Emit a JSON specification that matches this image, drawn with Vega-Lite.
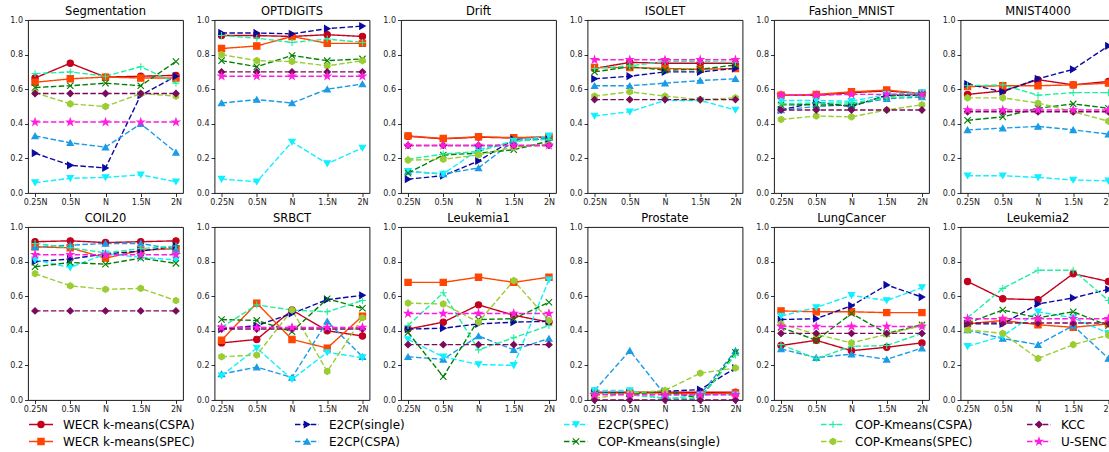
{
"$schema": "https://vega.github.io/schema/vega-lite/v6.json",
"padding": {"left": 9, "top": 5, "right": 0, "bottom": 0},
"datasets": {
"series": [
{"m":"A","name":"WECR k-means(CSPA)"},{"m":"B","name":"WECR k-means(SPEC)"},{"m":"C","name":"E2CP(single)"},{"m":"D","name":"E2CP(CSPA)"},{"m":"E","name":"E2CP(SPEC)"},{"m":"F","name":"COP-Kmeans(single)"},{"m":"G","name":"COP-Kmeans(CSPA)"},{"m":"H","name":"COP-Kmeans(SPEC)"},{"m":"I","name":"KCC"},{"m":"J","name":"U-SENC"}
],
"res": [
{"p":"Segmentation","m":"A","n":"0.25N","v":0.665},{"p":"Segmentation","m":"A","n":"0.5N","v":0.75},{"p":"Segmentation","m":"A","n":"N","v":0.67},{"p":"Segmentation","m":"A","n":"1.5N","v":0.675},{"p":"Segmentation","m":"A","n":"2N","v":0.68},
{"p":"Segmentation","m":"B","n":"0.25N","v":0.64},{"p":"Segmentation","m":"B","n":"0.5N","v":0.66},{"p":"Segmentation","m":"B","n":"N","v":0.67},{"p":"Segmentation","m":"B","n":"1.5N","v":0.665},{"p":"Segmentation","m":"B","n":"2N","v":0.665},
{"p":"Segmentation","m":"C","n":"0.25N","v":0.23},{"p":"Segmentation","m":"C","n":"0.5N","v":0.16},{"p":"Segmentation","m":"C","n":"N","v":0.145},{"p":"Segmentation","m":"C","n":"1.5N","v":0.565},{"p":"Segmentation","m":"C","n":"2N","v":0.675},
{"p":"Segmentation","m":"D","n":"0.25N","v":0.33},{"p":"Segmentation","m":"D","n":"0.5N","v":0.29},{"p":"Segmentation","m":"D","n":"N","v":0.265},{"p":"Segmentation","m":"D","n":"1.5N","v":0.40},{"p":"Segmentation","m":"D","n":"2N","v":0.235},
{"p":"Segmentation","m":"E","n":"0.25N","v":0.06},{"p":"Segmentation","m":"E","n":"0.5N","v":0.085},{"p":"Segmentation","m":"E","n":"N","v":0.09},{"p":"Segmentation","m":"E","n":"1.5N","v":0.105},{"p":"Segmentation","m":"E","n":"2N","v":0.065},
{"p":"Segmentation","m":"F","n":"0.25N","v":0.61},{"p":"Segmentation","m":"F","n":"0.5N","v":0.62},{"p":"Segmentation","m":"F","n":"N","v":0.635},{"p":"Segmentation","m":"F","n":"1.5N","v":0.62},{"p":"Segmentation","m":"F","n":"2N","v":0.76},
{"p":"Segmentation","m":"G","n":"0.25N","v":0.69},{"p":"Segmentation","m":"G","n":"0.5N","v":0.70},{"p":"Segmentation","m":"G","n":"N","v":0.675},{"p":"Segmentation","m":"G","n":"1.5N","v":0.73},{"p":"Segmentation","m":"G","n":"2N","v":0.635},
{"p":"Segmentation","m":"H","n":"0.25N","v":0.58},{"p":"Segmentation","m":"H","n":"0.5N","v":0.515},{"p":"Segmentation","m":"H","n":"N","v":0.50},{"p":"Segmentation","m":"H","n":"1.5N","v":0.575},{"p":"Segmentation","m":"H","n":"2N","v":0.56},
{"p":"Segmentation","m":"I","n":"0.25N","v":0.575},{"p":"Segmentation","m":"I","n":"0.5N","v":0.575},{"p":"Segmentation","m":"I","n":"N","v":0.575},{"p":"Segmentation","m":"I","n":"1.5N","v":0.575},{"p":"Segmentation","m":"I","n":"2N","v":0.575},
{"p":"Segmentation","m":"J","n":"0.25N","v":0.41},{"p":"Segmentation","m":"J","n":"0.5N","v":0.41},{"p":"Segmentation","m":"J","n":"N","v":0.41},{"p":"Segmentation","m":"J","n":"1.5N","v":0.41},{"p":"Segmentation","m":"J","n":"2N","v":0.41},
{"p":"OPTDIGITS","m":"A","n":"0.25N","v":0.91},{"p":"OPTDIGITS","m":"A","n":"0.5N","v":0.91},{"p":"OPTDIGITS","m":"A","n":"N","v":0.905},{"p":"OPTDIGITS","m":"A","n":"1.5N","v":0.915},{"p":"OPTDIGITS","m":"A","n":"2N","v":0.905},
{"p":"OPTDIGITS","m":"B","n":"0.25N","v":0.835},{"p":"OPTDIGITS","m":"B","n":"0.5N","v":0.85},{"p":"OPTDIGITS","m":"B","n":"N","v":0.905},{"p":"OPTDIGITS","m":"B","n":"1.5N","v":0.865},{"p":"OPTDIGITS","m":"B","n":"2N","v":0.865},
{"p":"OPTDIGITS","m":"C","n":"0.25N","v":0.925},{"p":"OPTDIGITS","m":"C","n":"0.5N","v":0.925},{"p":"OPTDIGITS","m":"C","n":"N","v":0.92},{"p":"OPTDIGITS","m":"C","n":"1.5N","v":0.95},{"p":"OPTDIGITS","m":"C","n":"2N","v":0.965},
{"p":"OPTDIGITS","m":"D","n":"0.25N","v":0.52},{"p":"OPTDIGITS","m":"D","n":"0.5N","v":0.54},{"p":"OPTDIGITS","m":"D","n":"N","v":0.52},{"p":"OPTDIGITS","m":"D","n":"1.5N","v":0.60},{"p":"OPTDIGITS","m":"D","n":"2N","v":0.63},
{"p":"OPTDIGITS","m":"E","n":"0.25N","v":0.08},{"p":"OPTDIGITS","m":"E","n":"0.5N","v":0.065},{"p":"OPTDIGITS","m":"E","n":"N","v":0.295},{"p":"OPTDIGITS","m":"E","n":"1.5N","v":0.17},{"p":"OPTDIGITS","m":"E","n":"2N","v":0.26},
{"p":"OPTDIGITS","m":"F","n":"0.25N","v":0.765},{"p":"OPTDIGITS","m":"F","n":"0.5N","v":0.73},{"p":"OPTDIGITS","m":"F","n":"N","v":0.795},{"p":"OPTDIGITS","m":"F","n":"1.5N","v":0.765},{"p":"OPTDIGITS","m":"F","n":"2N","v":0.775},
{"p":"OPTDIGITS","m":"G","n":"0.25N","v":0.91},{"p":"OPTDIGITS","m":"G","n":"0.5N","v":0.895},{"p":"OPTDIGITS","m":"G","n":"N","v":0.87},{"p":"OPTDIGITS","m":"G","n":"1.5N","v":0.89},{"p":"OPTDIGITS","m":"G","n":"2N","v":0.87},
{"p":"OPTDIGITS","m":"H","n":"0.25N","v":0.80},{"p":"OPTDIGITS","m":"H","n":"0.5N","v":0.765},{"p":"OPTDIGITS","m":"H","n":"N","v":0.76},{"p":"OPTDIGITS","m":"H","n":"1.5N","v":0.735},{"p":"OPTDIGITS","m":"H","n":"2N","v":0.765},
{"p":"OPTDIGITS","m":"I","n":"0.25N","v":0.70},{"p":"OPTDIGITS","m":"I","n":"0.5N","v":0.70},{"p":"OPTDIGITS","m":"I","n":"N","v":0.70},{"p":"OPTDIGITS","m":"I","n":"1.5N","v":0.70},{"p":"OPTDIGITS","m":"I","n":"2N","v":0.70},
{"p":"OPTDIGITS","m":"J","n":"0.25N","v":0.675},{"p":"OPTDIGITS","m":"J","n":"0.5N","v":0.675},{"p":"OPTDIGITS","m":"J","n":"N","v":0.675},{"p":"OPTDIGITS","m":"J","n":"1.5N","v":0.675},{"p":"OPTDIGITS","m":"J","n":"2N","v":0.675},
{"p":"Drift","m":"A","n":"0.25N","v":0.328},{"p":"Drift","m":"A","n":"0.5N","v":0.313},{"p":"Drift","m":"A","n":"N","v":0.323},{"p":"Drift","m":"A","n":"1.5N","v":0.318},{"p":"Drift","m":"A","n":"2N","v":0.323},
{"p":"Drift","m":"B","n":"0.25N","v":0.33},{"p":"Drift","m":"B","n":"0.5N","v":0.315},{"p":"Drift","m":"B","n":"N","v":0.325},{"p":"Drift","m":"B","n":"1.5N","v":0.32},{"p":"Drift","m":"B","n":"2N","v":0.325},
{"p":"Drift","m":"C","n":"0.25N","v":0.08},{"p":"Drift","m":"C","n":"0.5N","v":0.10},{"p":"Drift","m":"C","n":"N","v":0.185},{"p":"Drift","m":"C","n":"1.5N","v":0.31},{"p":"Drift","m":"C","n":"2N","v":0.31},
{"p":"Drift","m":"D","n":"0.25N","v":0.125},{"p":"Drift","m":"D","n":"0.5N","v":0.11},{"p":"Drift","m":"D","n":"N","v":0.145},{"p":"Drift","m":"D","n":"1.5N","v":0.30},{"p":"Drift","m":"D","n":"2N","v":0.32},
{"p":"Drift","m":"E","n":"0.25N","v":0.125},{"p":"Drift","m":"E","n":"0.5N","v":0.11},{"p":"Drift","m":"E","n":"N","v":0.25},{"p":"Drift","m":"E","n":"1.5N","v":0.30},{"p":"Drift","m":"E","n":"2N","v":0.33},
{"p":"Drift","m":"F","n":"0.25N","v":0.115},{"p":"Drift","m":"F","n":"0.5N","v":0.22},{"p":"Drift","m":"F","n":"N","v":0.23},{"p":"Drift","m":"F","n":"1.5N","v":0.25},{"p":"Drift","m":"F","n":"2N","v":0.30},
{"p":"Drift","m":"G","n":"0.25N","v":0.195},{"p":"Drift","m":"G","n":"0.5N","v":0.225},{"p":"Drift","m":"G","n":"N","v":0.24},{"p":"Drift","m":"G","n":"1.5N","v":0.30},{"p":"Drift","m":"G","n":"2N","v":0.31},
{"p":"Drift","m":"H","n":"0.25N","v":0.19},{"p":"Drift","m":"H","n":"0.5N","v":0.195},{"p":"Drift","m":"H","n":"N","v":0.22},{"p":"Drift","m":"H","n":"1.5N","v":0.265},{"p":"Drift","m":"H","n":"2N","v":0.28},
{"p":"Drift","m":"I","n":"0.25N","v":0.275},{"p":"Drift","m":"I","n":"0.5N","v":0.275},{"p":"Drift","m":"I","n":"N","v":0.275},{"p":"Drift","m":"I","n":"1.5N","v":0.275},{"p":"Drift","m":"I","n":"2N","v":0.275},
{"p":"Drift","m":"J","n":"0.25N","v":0.275},{"p":"Drift","m":"J","n":"0.5N","v":0.275},{"p":"Drift","m":"J","n":"N","v":0.275},{"p":"Drift","m":"J","n":"1.5N","v":0.275},{"p":"Drift","m":"J","n":"2N","v":0.275},
{"p":"ISOLET","m":"A","n":"0.25N","v":0.72},{"p":"ISOLET","m":"A","n":"0.5N","v":0.755},{"p":"ISOLET","m":"A","n":"N","v":0.75},{"p":"ISOLET","m":"A","n":"1.5N","v":0.75},{"p":"ISOLET","m":"A","n":"2N","v":0.75},
{"p":"ISOLET","m":"B","n":"0.25N","v":0.725},{"p":"ISOLET","m":"B","n":"0.5N","v":0.725},{"p":"ISOLET","m":"B","n":"N","v":0.72},{"p":"ISOLET","m":"B","n":"1.5N","v":0.715},{"p":"ISOLET","m":"B","n":"2N","v":0.72},
{"p":"ISOLET","m":"C","n":"0.25N","v":0.66},{"p":"ISOLET","m":"C","n":"0.5N","v":0.675},{"p":"ISOLET","m":"C","n":"N","v":0.70},{"p":"ISOLET","m":"C","n":"1.5N","v":0.70},{"p":"ISOLET","m":"C","n":"2N","v":0.72},
{"p":"ISOLET","m":"D","n":"0.25N","v":0.62},{"p":"ISOLET","m":"D","n":"0.5N","v":0.62},{"p":"ISOLET","m":"D","n":"N","v":0.635},{"p":"ISOLET","m":"D","n":"1.5N","v":0.65},{"p":"ISOLET","m":"D","n":"2N","v":0.66},
{"p":"ISOLET","m":"E","n":"0.25N","v":0.445},{"p":"ISOLET","m":"E","n":"0.5N","v":0.47},{"p":"ISOLET","m":"E","n":"N","v":0.535},{"p":"ISOLET","m":"E","n":"1.5N","v":0.535},{"p":"ISOLET","m":"E","n":"2N","v":0.48},
{"p":"ISOLET","m":"F","n":"0.25N","v":0.70},{"p":"ISOLET","m":"F","n":"0.5N","v":0.73},{"p":"ISOLET","m":"F","n":"N","v":0.71},{"p":"ISOLET","m":"F","n":"1.5N","v":0.715},{"p":"ISOLET","m":"F","n":"2N","v":0.74},
{"p":"ISOLET","m":"G","n":"0.25N","v":0.72},{"p":"ISOLET","m":"G","n":"0.5N","v":0.735},{"p":"ISOLET","m":"G","n":"N","v":0.76},{"p":"ISOLET","m":"G","n":"1.5N","v":0.76},{"p":"ISOLET","m":"G","n":"2N","v":0.755},
{"p":"ISOLET","m":"H","n":"0.25N","v":0.56},{"p":"ISOLET","m":"H","n":"0.5N","v":0.585},{"p":"ISOLET","m":"H","n":"N","v":0.56},{"p":"ISOLET","m":"H","n":"1.5N","v":0.54},{"p":"ISOLET","m":"H","n":"2N","v":0.55},
{"p":"ISOLET","m":"I","n":"0.25N","v":0.54},{"p":"ISOLET","m":"I","n":"0.5N","v":0.54},{"p":"ISOLET","m":"I","n":"N","v":0.54},{"p":"ISOLET","m":"I","n":"1.5N","v":0.54},{"p":"ISOLET","m":"I","n":"2N","v":0.54},
{"p":"ISOLET","m":"J","n":"0.25N","v":0.77},{"p":"ISOLET","m":"J","n":"0.5N","v":0.77},{"p":"ISOLET","m":"J","n":"N","v":0.77},{"p":"ISOLET","m":"J","n":"1.5N","v":0.77},{"p":"ISOLET","m":"J","n":"2N","v":0.77},
{"p":"Fashion_MNIST","m":"A","n":"0.25N","v":0.565},{"p":"Fashion_MNIST","m":"A","n":"0.5N","v":0.565},{"p":"Fashion_MNIST","m":"A","n":"N","v":0.58},{"p":"Fashion_MNIST","m":"A","n":"1.5N","v":0.59},{"p":"Fashion_MNIST","m":"A","n":"2N","v":0.575},
{"p":"Fashion_MNIST","m":"B","n":"0.25N","v":0.565},{"p":"Fashion_MNIST","m":"B","n":"0.5N","v":0.57},{"p":"Fashion_MNIST","m":"B","n":"N","v":0.585},{"p":"Fashion_MNIST","m":"B","n":"1.5N","v":0.595},{"p":"Fashion_MNIST","m":"B","n":"2N","v":0.575},
{"p":"Fashion_MNIST","m":"C","n":"0.25N","v":0.48},{"p":"Fashion_MNIST","m":"C","n":"0.5N","v":0.525},{"p":"Fashion_MNIST","m":"C","n":"N","v":0.50},{"p":"Fashion_MNIST","m":"C","n":"1.5N","v":0.565},{"p":"Fashion_MNIST","m":"C","n":"2N","v":0.565},
{"p":"Fashion_MNIST","m":"D","n":"0.25N","v":0.48},{"p":"Fashion_MNIST","m":"D","n":"0.5N","v":0.50},{"p":"Fashion_MNIST","m":"D","n":"N","v":0.51},{"p":"Fashion_MNIST","m":"D","n":"1.5N","v":0.545},{"p":"Fashion_MNIST","m":"D","n":"2N","v":0.555},
{"p":"Fashion_MNIST","m":"E","n":"0.25N","v":0.535},{"p":"Fashion_MNIST","m":"E","n":"0.5N","v":0.535},{"p":"Fashion_MNIST","m":"E","n":"N","v":0.53},{"p":"Fashion_MNIST","m":"E","n":"1.5N","v":0.57},{"p":"Fashion_MNIST","m":"E","n":"2N","v":0.58},
{"p":"Fashion_MNIST","m":"F","n":"0.25N","v":0.51},{"p":"Fashion_MNIST","m":"F","n":"0.5N","v":0.51},{"p":"Fashion_MNIST","m":"F","n":"N","v":0.505},{"p":"Fashion_MNIST","m":"F","n":"1.5N","v":0.56},{"p":"Fashion_MNIST","m":"F","n":"2N","v":0.57},
{"p":"Fashion_MNIST","m":"G","n":"0.25N","v":0.515},{"p":"Fashion_MNIST","m":"G","n":"0.5N","v":0.52},{"p":"Fashion_MNIST","m":"G","n":"N","v":0.52},{"p":"Fashion_MNIST","m":"G","n":"1.5N","v":0.55},{"p":"Fashion_MNIST","m":"G","n":"2N","v":0.56},
{"p":"Fashion_MNIST","m":"H","n":"0.25N","v":0.425},{"p":"Fashion_MNIST","m":"H","n":"0.5N","v":0.445},{"p":"Fashion_MNIST","m":"H","n":"N","v":0.44},{"p":"Fashion_MNIST","m":"H","n":"1.5N","v":0.48},{"p":"Fashion_MNIST","m":"H","n":"2N","v":0.51},
{"p":"Fashion_MNIST","m":"I","n":"0.25N","v":0.48},{"p":"Fashion_MNIST","m":"I","n":"0.5N","v":0.48},{"p":"Fashion_MNIST","m":"I","n":"N","v":0.48},{"p":"Fashion_MNIST","m":"I","n":"1.5N","v":0.48},{"p":"Fashion_MNIST","m":"I","n":"2N","v":0.48},
{"p":"Fashion_MNIST","m":"J","n":"0.25N","v":0.565},{"p":"Fashion_MNIST","m":"J","n":"0.5N","v":0.565},{"p":"Fashion_MNIST","m":"J","n":"N","v":0.57},{"p":"Fashion_MNIST","m":"J","n":"1.5N","v":0.57},{"p":"Fashion_MNIST","m":"J","n":"2N","v":0.57},
{"p":"MNIST4000","m":"A","n":"0.25N","v":0.57},{"p":"MNIST4000","m":"A","n":"0.5N","v":0.59},{"p":"MNIST4000","m":"A","n":"N","v":0.655},{"p":"MNIST4000","m":"A","n":"1.5N","v":0.625},{"p":"MNIST4000","m":"A","n":"2N","v":0.645},
{"p":"MNIST4000","m":"B","n":"0.25N","v":0.615},{"p":"MNIST4000","m":"B","n":"0.5N","v":0.62},{"p":"MNIST4000","m":"B","n":"N","v":0.62},{"p":"MNIST4000","m":"B","n":"1.5N","v":0.625},{"p":"MNIST4000","m":"B","n":"2N","v":0.635},
{"p":"MNIST4000","m":"C","n":"0.25N","v":0.63},{"p":"MNIST4000","m":"C","n":"0.5N","v":0.585},{"p":"MNIST4000","m":"C","n":"N","v":0.66},{"p":"MNIST4000","m":"C","n":"1.5N","v":0.715},{"p":"MNIST4000","m":"C","n":"2N","v":0.85},
{"p":"MNIST4000","m":"D","n":"0.25N","v":0.365},{"p":"MNIST4000","m":"D","n":"0.5N","v":0.375},{"p":"MNIST4000","m":"D","n":"N","v":0.385},{"p":"MNIST4000","m":"D","n":"1.5N","v":0.365},{"p":"MNIST4000","m":"D","n":"2N","v":0.34},
{"p":"MNIST4000","m":"E","n":"0.25N","v":0.10},{"p":"MNIST4000","m":"E","n":"0.5N","v":0.10},{"p":"MNIST4000","m":"E","n":"N","v":0.09},{"p":"MNIST4000","m":"E","n":"1.5N","v":0.075},{"p":"MNIST4000","m":"E","n":"2N","v":0.07},
{"p":"MNIST4000","m":"F","n":"0.25N","v":0.42},{"p":"MNIST4000","m":"F","n":"0.5N","v":0.44},{"p":"MNIST4000","m":"F","n":"N","v":0.49},{"p":"MNIST4000","m":"F","n":"1.5N","v":0.515},{"p":"MNIST4000","m":"F","n":"2N","v":0.49},
{"p":"MNIST4000","m":"G","n":"0.25N","v":0.62},{"p":"MNIST4000","m":"G","n":"0.5N","v":0.625},{"p":"MNIST4000","m":"G","n":"N","v":0.565},{"p":"MNIST4000","m":"G","n":"1.5N","v":0.58},{"p":"MNIST4000","m":"G","n":"2N","v":0.58},
{"p":"MNIST4000","m":"H","n":"0.25N","v":0.55},{"p":"MNIST4000","m":"H","n":"0.5N","v":0.55},{"p":"MNIST4000","m":"H","n":"N","v":0.52},{"p":"MNIST4000","m":"H","n":"1.5N","v":0.47},{"p":"MNIST4000","m":"H","n":"2N","v":0.415},
{"p":"MNIST4000","m":"I","n":"0.25N","v":0.47},{"p":"MNIST4000","m":"I","n":"0.5N","v":0.47},{"p":"MNIST4000","m":"I","n":"N","v":0.47},{"p":"MNIST4000","m":"I","n":"1.5N","v":0.47},{"p":"MNIST4000","m":"I","n":"2N","v":0.47},
{"p":"MNIST4000","m":"J","n":"0.25N","v":0.48},{"p":"MNIST4000","m":"J","n":"0.5N","v":0.48},{"p":"MNIST4000","m":"J","n":"N","v":0.48},{"p":"MNIST4000","m":"J","n":"1.5N","v":0.48},{"p":"MNIST4000","m":"J","n":"2N","v":0.48},
{"p":"COIL20","m":"A","n":"0.25N","v":0.915},{"p":"COIL20","m":"A","n":"0.5N","v":0.92},{"p":"COIL20","m":"A","n":"N","v":0.91},{"p":"COIL20","m":"A","n":"1.5N","v":0.915},{"p":"COIL20","m":"A","n":"2N","v":0.92},
{"p":"COIL20","m":"B","n":"0.25N","v":0.885},{"p":"COIL20","m":"B","n":"0.5N","v":0.88},{"p":"COIL20","m":"B","n":"N","v":0.82},{"p":"COIL20","m":"B","n":"1.5N","v":0.865},{"p":"COIL20","m":"B","n":"2N","v":0.875},
{"p":"COIL20","m":"C","n":"0.25N","v":0.80},{"p":"COIL20","m":"C","n":"0.5N","v":0.815},{"p":"COIL20","m":"C","n":"N","v":0.845},{"p":"COIL20","m":"C","n":"1.5N","v":0.86},{"p":"COIL20","m":"C","n":"2N","v":0.89},
{"p":"COIL20","m":"D","n":"0.25N","v":0.885},{"p":"COIL20","m":"D","n":"0.5N","v":0.895},{"p":"COIL20","m":"D","n":"N","v":0.905},{"p":"COIL20","m":"D","n":"1.5N","v":0.905},{"p":"COIL20","m":"D","n":"2N","v":0.87},
{"p":"COIL20","m":"E","n":"0.25N","v":0.81},{"p":"COIL20","m":"E","n":"0.5N","v":0.765},{"p":"COIL20","m":"E","n":"N","v":0.845},{"p":"COIL20","m":"E","n":"1.5N","v":0.825},{"p":"COIL20","m":"E","n":"2N","v":0.81},
{"p":"COIL20","m":"F","n":"0.25N","v":0.77},{"p":"COIL20","m":"F","n":"0.5N","v":0.795},{"p":"COIL20","m":"F","n":"N","v":0.785},{"p":"COIL20","m":"F","n":"1.5N","v":0.82},{"p":"COIL20","m":"F","n":"2N","v":0.79},
{"p":"COIL20","m":"G","n":"0.25N","v":0.905},{"p":"COIL20","m":"G","n":"0.5N","v":0.88},{"p":"COIL20","m":"G","n":"N","v":0.85},{"p":"COIL20","m":"G","n":"1.5N","v":0.875},{"p":"COIL20","m":"G","n":"2N","v":0.89},
{"p":"COIL20","m":"H","n":"0.25N","v":0.73},{"p":"COIL20","m":"H","n":"0.5N","v":0.66},{"p":"COIL20","m":"H","n":"N","v":0.64},{"p":"COIL20","m":"H","n":"1.5N","v":0.645},{"p":"COIL20","m":"H","n":"2N","v":0.575},
{"p":"COIL20","m":"I","n":"0.25N","v":0.515},{"p":"COIL20","m":"I","n":"0.5N","v":0.515},{"p":"COIL20","m":"I","n":"N","v":0.515},{"p":"COIL20","m":"I","n":"1.5N","v":0.515},{"p":"COIL20","m":"I","n":"2N","v":0.515},
{"p":"COIL20","m":"J","n":"0.25N","v":0.84},{"p":"COIL20","m":"J","n":"0.5N","v":0.84},{"p":"COIL20","m":"J","n":"N","v":0.84},{"p":"COIL20","m":"J","n":"1.5N","v":0.84},{"p":"COIL20","m":"J","n":"2N","v":0.84},
{"p":"SRBCT","m":"A","n":"0.25N","v":0.33},{"p":"SRBCT","m":"A","n":"0.5N","v":0.35},{"p":"SRBCT","m":"A","n":"N","v":0.52},{"p":"SRBCT","m":"A","n":"1.5N","v":0.40},{"p":"SRBCT","m":"A","n":"2N","v":0.37},
{"p":"SRBCT","m":"B","n":"0.25N","v":0.345},{"p":"SRBCT","m":"B","n":"0.5N","v":0.56},{"p":"SRBCT","m":"B","n":"N","v":0.35},{"p":"SRBCT","m":"B","n":"1.5N","v":0.30},{"p":"SRBCT","m":"B","n":"2N","v":0.485},
{"p":"SRBCT","m":"C","n":"0.25N","v":0.41},{"p":"SRBCT","m":"C","n":"0.5N","v":0.43},{"p":"SRBCT","m":"C","n":"N","v":0.50},{"p":"SRBCT","m":"C","n":"1.5N","v":0.58},{"p":"SRBCT","m":"C","n":"2N","v":0.605},
{"p":"SRBCT","m":"D","n":"0.25N","v":0.15},{"p":"SRBCT","m":"D","n":"0.5N","v":0.19},{"p":"SRBCT","m":"D","n":"N","v":0.13},{"p":"SRBCT","m":"D","n":"1.5N","v":0.455},{"p":"SRBCT","m":"D","n":"2N","v":0.25},
{"p":"SRBCT","m":"E","n":"0.25N","v":0.14},{"p":"SRBCT","m":"E","n":"0.5N","v":0.30},{"p":"SRBCT","m":"E","n":"N","v":0.12},{"p":"SRBCT","m":"E","n":"1.5N","v":0.275},{"p":"SRBCT","m":"E","n":"2N","v":0.245},
{"p":"SRBCT","m":"F","n":"0.25N","v":0.465},{"p":"SRBCT","m":"F","n":"0.5N","v":0.46},{"p":"SRBCT","m":"F","n":"N","v":0.395},{"p":"SRBCT","m":"F","n":"1.5N","v":0.585},{"p":"SRBCT","m":"F","n":"2N","v":0.53},
{"p":"SRBCT","m":"G","n":"0.25N","v":0.42},{"p":"SRBCT","m":"G","n":"0.5N","v":0.55},{"p":"SRBCT","m":"G","n":"N","v":0.52},{"p":"SRBCT","m":"G","n":"1.5N","v":0.51},{"p":"SRBCT","m":"G","n":"2N","v":0.575},
{"p":"SRBCT","m":"H","n":"0.25N","v":0.25},{"p":"SRBCT","m":"H","n":"0.5N","v":0.26},{"p":"SRBCT","m":"H","n":"N","v":0.52},{"p":"SRBCT","m":"H","n":"1.5N","v":0.165},{"p":"SRBCT","m":"H","n":"2N","v":0.475},
{"p":"SRBCT","m":"I","n":"0.25N","v":0.41},{"p":"SRBCT","m":"I","n":"0.5N","v":0.41},{"p":"SRBCT","m":"I","n":"N","v":0.41},{"p":"SRBCT","m":"I","n":"1.5N","v":0.41},{"p":"SRBCT","m":"I","n":"2N","v":0.41},
{"p":"SRBCT","m":"J","n":"0.25N","v":0.42},{"p":"SRBCT","m":"J","n":"0.5N","v":0.42},{"p":"SRBCT","m":"J","n":"N","v":0.42},{"p":"SRBCT","m":"J","n":"1.5N","v":0.42},{"p":"SRBCT","m":"J","n":"2N","v":0.42},
{"p":"Leukemia1","m":"A","n":"0.25N","v":0.41},{"p":"Leukemia1","m":"A","n":"0.5N","v":0.45},{"p":"Leukemia1","m":"A","n":"N","v":0.55},{"p":"Leukemia1","m":"A","n":"1.5N","v":0.49},{"p":"Leukemia1","m":"A","n":"2N","v":0.45},
{"p":"Leukemia1","m":"B","n":"0.25N","v":0.68},{"p":"Leukemia1","m":"B","n":"0.5N","v":0.68},{"p":"Leukemia1","m":"B","n":"N","v":0.71},{"p":"Leukemia1","m":"B","n":"1.5N","v":0.68},{"p":"Leukemia1","m":"B","n":"2N","v":0.71},
{"p":"Leukemia1","m":"C","n":"0.25N","v":0.41},{"p":"Leukemia1","m":"C","n":"0.5N","v":0.415},{"p":"Leukemia1","m":"C","n":"N","v":0.44},{"p":"Leukemia1","m":"C","n":"1.5N","v":0.45},{"p":"Leukemia1","m":"C","n":"2N","v":0.455},
{"p":"Leukemia1","m":"D","n":"0.25N","v":0.25},{"p":"Leukemia1","m":"D","n":"0.5N","v":0.235},{"p":"Leukemia1","m":"D","n":"N","v":0.37},{"p":"Leukemia1","m":"D","n":"1.5N","v":0.29},{"p":"Leukemia1","m":"D","n":"2N","v":0.355},
{"p":"Leukemia1","m":"E","n":"0.25N","v":0.35},{"p":"Leukemia1","m":"E","n":"0.5N","v":0.25},{"p":"Leukemia1","m":"E","n":"N","v":0.205},{"p":"Leukemia1","m":"E","n":"1.5N","v":0.20},{"p":"Leukemia1","m":"E","n":"2N","v":0.695},
{"p":"Leukemia1","m":"F","n":"0.25N","v":0.39},{"p":"Leukemia1","m":"F","n":"0.5N","v":0.135},{"p":"Leukemia1","m":"F","n":"N","v":0.465},{"p":"Leukemia1","m":"F","n":"1.5N","v":0.47},{"p":"Leukemia1","m":"F","n":"2N","v":0.565},
{"p":"Leukemia1","m":"G","n":"0.25N","v":0.43},{"p":"Leukemia1","m":"G","n":"0.5N","v":0.62},{"p":"Leukemia1","m":"G","n":"N","v":0.29},{"p":"Leukemia1","m":"G","n":"1.5N","v":0.36},{"p":"Leukemia1","m":"G","n":"2N","v":0.43},
{"p":"Leukemia1","m":"H","n":"0.25N","v":0.56},{"p":"Leukemia1","m":"H","n":"0.5N","v":0.555},{"p":"Leukemia1","m":"H","n":"N","v":0.45},{"p":"Leukemia1","m":"H","n":"1.5N","v":0.69},{"p":"Leukemia1","m":"H","n":"2N","v":0.46},
{"p":"Leukemia1","m":"I","n":"0.25N","v":0.32},{"p":"Leukemia1","m":"I","n":"0.5N","v":0.32},{"p":"Leukemia1","m":"I","n":"N","v":0.32},{"p":"Leukemia1","m":"I","n":"1.5N","v":0.32},{"p":"Leukemia1","m":"I","n":"2N","v":0.32},
{"p":"Leukemia1","m":"J","n":"0.25N","v":0.50},{"p":"Leukemia1","m":"J","n":"0.5N","v":0.50},{"p":"Leukemia1","m":"J","n":"N","v":0.50},{"p":"Leukemia1","m":"J","n":"1.5N","v":0.50},{"p":"Leukemia1","m":"J","n":"2N","v":0.50},
{"p":"Prostate","m":"A","n":"0.25N","v":0.045},{"p":"Prostate","m":"A","n":"0.5N","v":0.045},{"p":"Prostate","m":"A","n":"N","v":0.045},{"p":"Prostate","m":"A","n":"1.5N","v":0.045},{"p":"Prostate","m":"A","n":"2N","v":0.045},
{"p":"Prostate","m":"B","n":"0.25N","v":0.04},{"p":"Prostate","m":"B","n":"0.5N","v":0.04},{"p":"Prostate","m":"B","n":"N","v":0.04},{"p":"Prostate","m":"B","n":"1.5N","v":0.035},{"p":"Prostate","m":"B","n":"2N","v":0.04},
{"p":"Prostate","m":"C","n":"0.25N","v":0.04},{"p":"Prostate","m":"C","n":"0.5N","v":0.04},{"p":"Prostate","m":"C","n":"N","v":0.05},{"p":"Prostate","m":"C","n":"1.5N","v":0.06},{"p":"Prostate","m":"C","n":"2N","v":0.185},
{"p":"Prostate","m":"D","n":"0.25N","v":0.055},{"p":"Prostate","m":"D","n":"0.5N","v":0.285},{"p":"Prostate","m":"D","n":"N","v":0.03},{"p":"Prostate","m":"D","n":"1.5N","v":0.03},{"p":"Prostate","m":"D","n":"2N","v":0.285},
{"p":"Prostate","m":"E","n":"0.25N","v":0.055},{"p":"Prostate","m":"E","n":"0.5N","v":0.055},{"p":"Prostate","m":"E","n":"N","v":0.005},{"p":"Prostate","m":"E","n":"1.5N","v":0.03},{"p":"Prostate","m":"E","n":"2N","v":0.03},
{"p":"Prostate","m":"F","n":"0.25N","v":0.035},{"p":"Prostate","m":"F","n":"0.5N","v":0.035},{"p":"Prostate","m":"F","n":"N","v":0.05},{"p":"Prostate","m":"F","n":"1.5N","v":0.01},{"p":"Prostate","m":"F","n":"2N","v":0.275},
{"p":"Prostate","m":"G","n":"0.25N","v":0.04},{"p":"Prostate","m":"G","n":"0.5N","v":0.03},{"p":"Prostate","m":"G","n":"N","v":0.01},{"p":"Prostate","m":"G","n":"1.5N","v":0.01},{"p":"Prostate","m":"G","n":"2N","v":0.26},
{"p":"Prostate","m":"H","n":"0.25N","v":0.01},{"p":"Prostate","m":"H","n":"0.5N","v":0.04},{"p":"Prostate","m":"H","n":"N","v":0.055},{"p":"Prostate","m":"H","n":"1.5N","v":0.155},{"p":"Prostate","m":"H","n":"2N","v":0.185},
{"p":"Prostate","m":"I","n":"0.25N","v":0.0},{"p":"Prostate","m":"I","n":"0.5N","v":0.0},{"p":"Prostate","m":"I","n":"N","v":0.0},{"p":"Prostate","m":"I","n":"1.5N","v":0.0},{"p":"Prostate","m":"I","n":"2N","v":0.0},
{"p":"Prostate","m":"J","n":"0.25N","v":0.03},{"p":"Prostate","m":"J","n":"0.5N","v":0.03},{"p":"Prostate","m":"J","n":"N","v":0.03},{"p":"Prostate","m":"J","n":"1.5N","v":0.03},{"p":"Prostate","m":"J","n":"2N","v":0.03},
{"p":"LungCancer","m":"A","n":"0.25N","v":0.315},{"p":"LungCancer","m":"A","n":"0.5N","v":0.345},{"p":"LungCancer","m":"A","n":"N","v":0.285},{"p":"LungCancer","m":"A","n":"1.5N","v":0.305},{"p":"LungCancer","m":"A","n":"2N","v":0.33},
{"p":"LungCancer","m":"B","n":"0.25N","v":0.515},{"p":"LungCancer","m":"B","n":"0.5N","v":0.51},{"p":"LungCancer","m":"B","n":"N","v":0.51},{"p":"LungCancer","m":"B","n":"1.5N","v":0.505},{"p":"LungCancer","m":"B","n":"2N","v":0.505},
{"p":"LungCancer","m":"C","n":"0.25N","v":0.465},{"p":"LungCancer","m":"C","n":"0.5N","v":0.47},{"p":"LungCancer","m":"C","n":"N","v":0.545},{"p":"LungCancer","m":"C","n":"1.5N","v":0.665},{"p":"LungCancer","m":"C","n":"2N","v":0.595},
{"p":"LungCancer","m":"D","n":"0.25N","v":0.295},{"p":"LungCancer","m":"D","n":"0.5N","v":0.245},{"p":"LungCancer","m":"D","n":"N","v":0.265},{"p":"LungCancer","m":"D","n":"1.5N","v":0.235},{"p":"LungCancer","m":"D","n":"2N","v":0.30},
{"p":"LungCancer","m":"E","n":"0.25N","v":0.485},{"p":"LungCancer","m":"E","n":"0.5N","v":0.535},{"p":"LungCancer","m":"E","n":"N","v":0.605},{"p":"LungCancer","m":"E","n":"1.5N","v":0.575},{"p":"LungCancer","m":"E","n":"2N","v":0.65},
{"p":"LungCancer","m":"F","n":"0.25N","v":0.42},{"p":"LungCancer","m":"F","n":"0.5N","v":0.345},{"p":"LungCancer","m":"F","n":"N","v":0.50},{"p":"LungCancer","m":"F","n":"1.5N","v":0.385},{"p":"LungCancer","m":"F","n":"2N","v":0.435},
{"p":"LungCancer","m":"G","n":"0.25N","v":0.32},{"p":"LungCancer","m":"G","n":"0.5N","v":0.24},{"p":"LungCancer","m":"G","n":"N","v":0.31},{"p":"LungCancer","m":"G","n":"1.5N","v":0.315},{"p":"LungCancer","m":"G","n":"2N","v":0.385},
{"p":"LungCancer","m":"H","n":"0.25N","v":0.44},{"p":"LungCancer","m":"H","n":"0.5N","v":0.38},{"p":"LungCancer","m":"H","n":"N","v":0.33},{"p":"LungCancer","m":"H","n":"1.5N","v":0.38},{"p":"LungCancer","m":"H","n":"2N","v":0.43},
{"p":"LungCancer","m":"I","n":"0.25N","v":0.385},{"p":"LungCancer","m":"I","n":"0.5N","v":0.385},{"p":"LungCancer","m":"I","n":"N","v":0.385},{"p":"LungCancer","m":"I","n":"1.5N","v":0.385},{"p":"LungCancer","m":"I","n":"2N","v":0.385},
{"p":"LungCancer","m":"J","n":"0.25N","v":0.425},{"p":"LungCancer","m":"J","n":"0.5N","v":0.425},{"p":"LungCancer","m":"J","n":"N","v":0.425},{"p":"LungCancer","m":"J","n":"1.5N","v":0.425},{"p":"LungCancer","m":"J","n":"2N","v":0.425},
{"p":"Leukemia2","m":"A","n":"0.25N","v":0.685},{"p":"Leukemia2","m":"A","n":"0.5N","v":0.585},{"p":"Leukemia2","m":"A","n":"N","v":0.58},{"p":"Leukemia2","m":"A","n":"1.5N","v":0.73},{"p":"Leukemia2","m":"A","n":"2N","v":0.685},
{"p":"Leukemia2","m":"B","n":"0.25N","v":0.44},{"p":"Leukemia2","m":"B","n":"0.5N","v":0.46},{"p":"Leukemia2","m":"B","n":"N","v":0.435},{"p":"Leukemia2","m":"B","n":"1.5N","v":0.42},{"p":"Leukemia2","m":"B","n":"2N","v":0.44},
{"p":"Leukemia2","m":"C","n":"0.25N","v":0.44},{"p":"Leukemia2","m":"C","n":"0.5N","v":0.44},{"p":"Leukemia2","m":"C","n":"N","v":0.555},{"p":"Leukemia2","m":"C","n":"1.5N","v":0.59},{"p":"Leukemia2","m":"C","n":"2N","v":0.64},
{"p":"Leukemia2","m":"D","n":"0.25N","v":0.405},{"p":"Leukemia2","m":"D","n":"0.5N","v":0.355},{"p":"Leukemia2","m":"D","n":"N","v":0.32},{"p":"Leukemia2","m":"D","n":"1.5N","v":0.43},{"p":"Leukemia2","m":"D","n":"2N","v":0.24},
{"p":"Leukemia2","m":"E","n":"0.25N","v":0.31},{"p":"Leukemia2","m":"E","n":"0.5N","v":0.37},{"p":"Leukemia2","m":"E","n":"N","v":0.51},{"p":"Leukemia2","m":"E","n":"1.5N","v":0.475},{"p":"Leukemia2","m":"E","n":"2N","v":0.385},
{"p":"Leukemia2","m":"F","n":"0.25N","v":0.445},{"p":"Leukemia2","m":"F","n":"0.5N","v":0.52},{"p":"Leukemia2","m":"F","n":"N","v":0.475},{"p":"Leukemia2","m":"F","n":"1.5N","v":0.51},{"p":"Leukemia2","m":"F","n":"2N","v":0.43},
{"p":"Leukemia2","m":"G","n":"0.25N","v":0.475},{"p":"Leukemia2","m":"G","n":"0.5N","v":0.645},{"p":"Leukemia2","m":"G","n":"N","v":0.75},{"p":"Leukemia2","m":"G","n":"1.5N","v":0.75},{"p":"Leukemia2","m":"G","n":"2N","v":0.575},
{"p":"Leukemia2","m":"H","n":"0.25N","v":0.405},{"p":"Leukemia2","m":"H","n":"0.5N","v":0.385},{"p":"Leukemia2","m":"H","n":"N","v":0.24},{"p":"Leukemia2","m":"H","n":"1.5N","v":0.32},{"p":"Leukemia2","m":"H","n":"2N","v":0.375},
{"p":"Leukemia2","m":"I","n":"0.25N","v":0.445},{"p":"Leukemia2","m":"I","n":"0.5N","v":0.445},{"p":"Leukemia2","m":"I","n":"N","v":0.445},{"p":"Leukemia2","m":"I","n":"1.5N","v":0.445},{"p":"Leukemia2","m":"I","n":"2N","v":0.445},
{"p":"Leukemia2","m":"J","n":"0.25N","v":0.47},{"p":"Leukemia2","m":"J","n":"0.5N","v":0.47},{"p":"Leukemia2","m":"J","n":"N","v":0.47},{"p":"Leukemia2","m":"J","n":"1.5N","v":0.47},{"p":"Leukemia2","m":"J","n":"2N","v":0.47}
]
},
"vconcat": [
{
"data": {"name": "res"},
"facet": {"field": "p", "type": "nominal", "title": null, "sort": ["Segmentation","OPTDIGITS","Drift","ISOLET","Fashion_MNIST","MNIST4000","COIL20","SRBCT","Leukemia1","Prostate","LungCancer","Leukemia2"], "header": {"labelFontSize": 11.5, "labelFont": "DejaVu Sans", "labelColor": "black", "labelPadding": -1}},
"columns": 6,
"spacing": {"row": 5, "column": 11.5},
"resolve": {"axis": {"x": "independent", "y": "independent"}},
"spec": {
"width": 155, "height": 173,
"encoding": {
"x": {"field": "n", "type": "ordinal", "sort": ["0.25N","0.5N","N","1.5N","2N"], "scale": {"type": "point", "padding": 0.2}, "axis": {"title": null, "labelAngle": 0}},
"y": {"field": "v", "type": "quantitative", "scale": {"domain": [0, 1], "nice": false}, "axis": {"title": null, "values": [0, 0.2, 0.4, 0.6, 0.8, 1.0], "format": ".1f"}}
},
"layer": [
{"mark": {"type": "line", "strokeWidth": 1.4},
"encoding": {
"order": {"value": null},
"color": {"field": "m", "type": "nominal", "legend": null, "scale": {"domain": ["A","B","C","D","E","F","G","H","I","J"], "range": ["#c4001c","#ff4500","#0a0aa0","#1a9be6","#10f0ff","#008000","#1ef0a0","#9acd32","#7b0a5c","#ff1ee0"]}},
"strokeDash": {"field": "m", "type": "nominal", "legend": null, "scale": {"domain": ["A","B","C","D","E","F","G","H","I","J"], "range": [[1,0],[1,0],[5.5,2.4],[5.5,2.4],[5.5,2.4],[5.5,2.4],[5.5,2.4],[5.5,2.4],[5.5,2.4],[5.5,2.4]]}}
}},
{"mark": {"type": "point", "filled": true, "size": 40, "strokeWidth": 1.1, "opacity": 1},
"encoding": {
"shape": {"field": "m", "type": "nominal", "legend": null, "scale": {"domain": ["A","B","C","D","E","F","G","H","I","J"], "range": ["circle","square","triangle-right","triangle-up","triangle-down","M-1,-1L1,1M-1,1L1,-1","M-1.1,0L1.1,0M0,-1.1L0,1.1","M0,-1L0.866,-0.5L0.866,0.5L0,1L-0.866,0.5L-0.866,-0.5Z","diamond","M0,-1.15L0.26,-0.36L1.09,-0.36L0.42,0.14L0.68,0.93L0,0.44L-0.68,0.93L-0.42,0.14L-1.09,-0.36L-0.26,-0.36Z"]}},
"fill": {"field": "m", "type": "nominal", "legend": null, "scale": {"domain": ["A","B","C","D","E","F","G","H","I","J"], "range": ["#c4001c","#ff4500","#0a0aa0","#1a9be6","#10f0ff","#008000","#1ef0a0","#9acd32","#7b0a5c","#ff1ee0"]}},
"stroke": {"field": "m", "type": "nominal", "legend": null, "scale": {"domain": ["A","B","C","D","E","F","G","H","I","J"], "range": ["#c4001c","#ff4500","#0a0aa0","#1a9be6","#10f0ff","#008000","#1ef0a0","#9acd32","#7b0a5c","#ff1ee0"]}}
}}
]
}
},
{
"spacing": 0,
"bounds": "flush",
"resolve": {"scale": {"x": "independent", "y": "independent"}},
"hconcat": [
{"width": 266, "height": 34, "view": {"stroke": null}, "data": {"name": "series"},
"transform": [{"filter": {"field": "m", "oneOf": ["A","B"]}}],
"encoding": {"y": {"field": "m", "type": "nominal", "axis": null, "scale": {"type": "point", "domain": ["A","B"], "padding": 0.5}}},
"layer": [
{"mark": {"type": "rule", "strokeWidth": 1.4}, "encoding": {"x": {"datum": 1, "type": "quantitative", "axis": null, "scale": {"domain": [0, 100], "range": [0, 100]}}, "x2": {"datum": 25},
"color": {"field": "m", "type": "nominal", "legend": null, "scale": {"domain": ["A","B","C","D","E","F","G","H","I","J"], "range": ["#c4001c","#ff4500","#0a0aa0","#1a9be6","#10f0ff","#008000","#1ef0a0","#9acd32","#7b0a5c","#ff1ee0"]}},
"strokeDash": {"field": "m", "type": "nominal", "legend": null, "scale": {"domain": ["A","B","C","D","E","F","G","H","I","J"], "range": [[1,0],[1,0],[5.5,2.4],[5.5,2.4],[5.5,2.4],[5.5,2.4],[5.5,2.4],[5.5,2.4],[5.5,2.4],[5.5,2.4]]}}}},
{"mark": {"type": "point", "filled": true, "size": 40, "strokeWidth": 1.1, "opacity": 1}, "encoding": {"x": {"datum": 13, "type": "quantitative", "axis": null, "scale": {"domain": [0, 100], "range": [0, 100]}},
"shape": {"field": "m", "type": "nominal", "legend": null, "scale": {"domain": ["A","B","C","D","E","F","G","H","I","J"], "range": ["circle","square","triangle-right","triangle-up","triangle-down","M-1,-1L1,1M-1,1L1,-1","M-1.1,0L1.1,0M0,-1.1L0,1.1","M0,-1L0.866,-0.5L0.866,0.5L0,1L-0.866,0.5L-0.866,-0.5Z","diamond","M0,-1.15L0.26,-0.36L1.09,-0.36L0.42,0.14L0.68,0.93L0,0.44L-0.68,0.93L-0.42,0.14L-1.09,-0.36L-0.26,-0.36Z"]}},
"fill": {"field": "m", "type": "nominal", "legend": null, "scale": {"domain": ["A","B","C","D","E","F","G","H","I","J"], "range": ["#c4001c","#ff4500","#0a0aa0","#1a9be6","#10f0ff","#008000","#1ef0a0","#9acd32","#7b0a5c","#ff1ee0"]}},
"stroke": {"field": "m", "type": "nominal", "legend": null, "scale": {"domain": ["A","B","C","D","E","F","G","H","I","J"], "range": ["#c4001c","#ff4500","#0a0aa0","#1a9be6","#10f0ff","#008000","#1ef0a0","#9acd32","#7b0a5c","#ff1ee0"]}}}},
{"mark": {"type": "text", "align": "left", "baseline": "middle", "fontSize": 12, "font": "DejaVu Sans", "color": "black"}, "encoding": {"x": {"datum": 35, "type": "quantitative", "axis": null, "scale": {"domain": [0, 100], "range": [0, 100]}}, "text": {"field": "name"}}}
]},
{"width": 269, "height": 34, "view": {"stroke": null}, "data": {"name": "series"},
"transform": [{"filter": {"field": "m", "oneOf": ["C","D"]}}],
"encoding": {"y": {"field": "m", "type": "nominal", "axis": null, "scale": {"type": "point", "domain": ["C","D"], "padding": 0.5}}},
"layer": [
{"mark": {"type": "rule", "strokeWidth": 1.4}, "encoding": {"x": {"datum": 1, "type": "quantitative", "axis": null, "scale": {"domain": [0, 100], "range": [0, 100]}}, "x2": {"datum": 25},
"color": {"field": "m", "type": "nominal", "legend": null, "scale": {"domain": ["A","B","C","D","E","F","G","H","I","J"], "range": ["#c4001c","#ff4500","#0a0aa0","#1a9be6","#10f0ff","#008000","#1ef0a0","#9acd32","#7b0a5c","#ff1ee0"]}},
"strokeDash": {"field": "m", "type": "nominal", "legend": null, "scale": {"domain": ["A","B","C","D","E","F","G","H","I","J"], "range": [[1,0],[1,0],[5.5,2.4],[5.5,2.4],[5.5,2.4],[5.5,2.4],[5.5,2.4],[5.5,2.4],[5.5,2.4],[5.5,2.4]]}}}},
{"mark": {"type": "point", "filled": true, "size": 40, "strokeWidth": 1.1, "opacity": 1}, "encoding": {"x": {"datum": 13, "type": "quantitative", "axis": null, "scale": {"domain": [0, 100], "range": [0, 100]}},
"shape": {"field": "m", "type": "nominal", "legend": null, "scale": {"domain": ["A","B","C","D","E","F","G","H","I","J"], "range": ["circle","square","triangle-right","triangle-up","triangle-down","M-1,-1L1,1M-1,1L1,-1","M-1.1,0L1.1,0M0,-1.1L0,1.1","M0,-1L0.866,-0.5L0.866,0.5L0,1L-0.866,0.5L-0.866,-0.5Z","diamond","M0,-1.15L0.26,-0.36L1.09,-0.36L0.42,0.14L0.68,0.93L0,0.44L-0.68,0.93L-0.42,0.14L-1.09,-0.36L-0.26,-0.36Z"]}},
"fill": {"field": "m", "type": "nominal", "legend": null, "scale": {"domain": ["A","B","C","D","E","F","G","H","I","J"], "range": ["#c4001c","#ff4500","#0a0aa0","#1a9be6","#10f0ff","#008000","#1ef0a0","#9acd32","#7b0a5c","#ff1ee0"]}},
"stroke": {"field": "m", "type": "nominal", "legend": null, "scale": {"domain": ["A","B","C","D","E","F","G","H","I","J"], "range": ["#c4001c","#ff4500","#0a0aa0","#1a9be6","#10f0ff","#008000","#1ef0a0","#9acd32","#7b0a5c","#ff1ee0"]}}}},
{"mark": {"type": "text", "align": "left", "baseline": "middle", "fontSize": 12, "font": "DejaVu Sans", "color": "black"}, "encoding": {"x": {"datum": 35, "type": "quantitative", "axis": null, "scale": {"domain": [0, 100], "range": [0, 100]}}, "text": {"field": "name"}}}
]},
{"width": 257, "height": 34, "view": {"stroke": null}, "data": {"name": "series"},
"transform": [{"filter": {"field": "m", "oneOf": ["E","F"]}}],
"encoding": {"y": {"field": "m", "type": "nominal", "axis": null, "scale": {"type": "point", "domain": ["E","F"], "padding": 0.5}}},
"layer": [
{"mark": {"type": "rule", "strokeWidth": 1.4}, "encoding": {"x": {"datum": 1, "type": "quantitative", "axis": null, "scale": {"domain": [0, 100], "range": [0, 100]}}, "x2": {"datum": 25},
"color": {"field": "m", "type": "nominal", "legend": null, "scale": {"domain": ["A","B","C","D","E","F","G","H","I","J"], "range": ["#c4001c","#ff4500","#0a0aa0","#1a9be6","#10f0ff","#008000","#1ef0a0","#9acd32","#7b0a5c","#ff1ee0"]}},
"strokeDash": {"field": "m", "type": "nominal", "legend": null, "scale": {"domain": ["A","B","C","D","E","F","G","H","I","J"], "range": [[1,0],[1,0],[5.5,2.4],[5.5,2.4],[5.5,2.4],[5.5,2.4],[5.5,2.4],[5.5,2.4],[5.5,2.4],[5.5,2.4]]}}}},
{"mark": {"type": "point", "filled": true, "size": 40, "strokeWidth": 1.1, "opacity": 1}, "encoding": {"x": {"datum": 13, "type": "quantitative", "axis": null, "scale": {"domain": [0, 100], "range": [0, 100]}},
"shape": {"field": "m", "type": "nominal", "legend": null, "scale": {"domain": ["A","B","C","D","E","F","G","H","I","J"], "range": ["circle","square","triangle-right","triangle-up","triangle-down","M-1,-1L1,1M-1,1L1,-1","M-1.1,0L1.1,0M0,-1.1L0,1.1","M0,-1L0.866,-0.5L0.866,0.5L0,1L-0.866,0.5L-0.866,-0.5Z","diamond","M0,-1.15L0.26,-0.36L1.09,-0.36L0.42,0.14L0.68,0.93L0,0.44L-0.68,0.93L-0.42,0.14L-1.09,-0.36L-0.26,-0.36Z"]}},
"fill": {"field": "m", "type": "nominal", "legend": null, "scale": {"domain": ["A","B","C","D","E","F","G","H","I","J"], "range": ["#c4001c","#ff4500","#0a0aa0","#1a9be6","#10f0ff","#008000","#1ef0a0","#9acd32","#7b0a5c","#ff1ee0"]}},
"stroke": {"field": "m", "type": "nominal", "legend": null, "scale": {"domain": ["A","B","C","D","E","F","G","H","I","J"], "range": ["#c4001c","#ff4500","#0a0aa0","#1a9be6","#10f0ff","#008000","#1ef0a0","#9acd32","#7b0a5c","#ff1ee0"]}}}},
{"mark": {"type": "text", "align": "left", "baseline": "middle", "fontSize": 12, "font": "DejaVu Sans", "color": "black"}, "encoding": {"x": {"datum": 35, "type": "quantitative", "axis": null, "scale": {"domain": [0, 100], "range": [0, 100]}}, "text": {"field": "name"}}}
]},
{"width": 206, "height": 34, "view": {"stroke": null}, "data": {"name": "series"},
"transform": [{"filter": {"field": "m", "oneOf": ["G","H"]}}],
"encoding": {"y": {"field": "m", "type": "nominal", "axis": null, "scale": {"type": "point", "domain": ["G","H"], "padding": 0.5}}},
"layer": [
{"mark": {"type": "rule", "strokeWidth": 1.4}, "encoding": {"x": {"datum": 1, "type": "quantitative", "axis": null, "scale": {"domain": [0, 100], "range": [0, 100]}}, "x2": {"datum": 25},
"color": {"field": "m", "type": "nominal", "legend": null, "scale": {"domain": ["A","B","C","D","E","F","G","H","I","J"], "range": ["#c4001c","#ff4500","#0a0aa0","#1a9be6","#10f0ff","#008000","#1ef0a0","#9acd32","#7b0a5c","#ff1ee0"]}},
"strokeDash": {"field": "m", "type": "nominal", "legend": null, "scale": {"domain": ["A","B","C","D","E","F","G","H","I","J"], "range": [[1,0],[1,0],[5.5,2.4],[5.5,2.4],[5.5,2.4],[5.5,2.4],[5.5,2.4],[5.5,2.4],[5.5,2.4],[5.5,2.4]]}}}},
{"mark": {"type": "point", "filled": true, "size": 40, "strokeWidth": 1.1, "opacity": 1}, "encoding": {"x": {"datum": 13, "type": "quantitative", "axis": null, "scale": {"domain": [0, 100], "range": [0, 100]}},
"shape": {"field": "m", "type": "nominal", "legend": null, "scale": {"domain": ["A","B","C","D","E","F","G","H","I","J"], "range": ["circle","square","triangle-right","triangle-up","triangle-down","M-1,-1L1,1M-1,1L1,-1","M-1.1,0L1.1,0M0,-1.1L0,1.1","M0,-1L0.866,-0.5L0.866,0.5L0,1L-0.866,0.5L-0.866,-0.5Z","diamond","M0,-1.15L0.26,-0.36L1.09,-0.36L0.42,0.14L0.68,0.93L0,0.44L-0.68,0.93L-0.42,0.14L-1.09,-0.36L-0.26,-0.36Z"]}},
"fill": {"field": "m", "type": "nominal", "legend": null, "scale": {"domain": ["A","B","C","D","E","F","G","H","I","J"], "range": ["#c4001c","#ff4500","#0a0aa0","#1a9be6","#10f0ff","#008000","#1ef0a0","#9acd32","#7b0a5c","#ff1ee0"]}},
"stroke": {"field": "m", "type": "nominal", "legend": null, "scale": {"domain": ["A","B","C","D","E","F","G","H","I","J"], "range": ["#c4001c","#ff4500","#0a0aa0","#1a9be6","#10f0ff","#008000","#1ef0a0","#9acd32","#7b0a5c","#ff1ee0"]}}}},
{"mark": {"type": "text", "align": "left", "baseline": "middle", "fontSize": 12, "font": "DejaVu Sans", "color": "black"}, "encoding": {"x": {"datum": 35, "type": "quantitative", "axis": null, "scale": {"domain": [0, 100], "range": [0, 100]}}, "text": {"field": "name"}}}
]},
{"width": 80, "height": 34, "view": {"stroke": null}, "data": {"name": "series"},
"transform": [{"filter": {"field": "m", "oneOf": ["I","J"]}}],
"encoding": {"y": {"field": "m", "type": "nominal", "axis": null, "scale": {"type": "point", "domain": ["I","J"], "padding": 0.5}}},
"layer": [
{"mark": {"type": "rule", "strokeWidth": 1.4}, "encoding": {"x": {"datum": 1, "type": "quantitative", "axis": null, "scale": {"domain": [0, 100], "range": [0, 100]}}, "x2": {"datum": 25},
"color": {"field": "m", "type": "nominal", "legend": null, "scale": {"domain": ["A","B","C","D","E","F","G","H","I","J"], "range": ["#c4001c","#ff4500","#0a0aa0","#1a9be6","#10f0ff","#008000","#1ef0a0","#9acd32","#7b0a5c","#ff1ee0"]}},
"strokeDash": {"field": "m", "type": "nominal", "legend": null, "scale": {"domain": ["A","B","C","D","E","F","G","H","I","J"], "range": [[1,0],[1,0],[5.5,2.4],[5.5,2.4],[5.5,2.4],[5.5,2.4],[5.5,2.4],[5.5,2.4],[5.5,2.4],[5.5,2.4]]}}}},
{"mark": {"type": "point", "filled": true, "size": 40, "strokeWidth": 1.1, "opacity": 1}, "encoding": {"x": {"datum": 13, "type": "quantitative", "axis": null, "scale": {"domain": [0, 100], "range": [0, 100]}},
"shape": {"field": "m", "type": "nominal", "legend": null, "scale": {"domain": ["A","B","C","D","E","F","G","H","I","J"], "range": ["circle","square","triangle-right","triangle-up","triangle-down","M-1,-1L1,1M-1,1L1,-1","M-1.1,0L1.1,0M0,-1.1L0,1.1","M0,-1L0.866,-0.5L0.866,0.5L0,1L-0.866,0.5L-0.866,-0.5Z","diamond","M0,-1.15L0.26,-0.36L1.09,-0.36L0.42,0.14L0.68,0.93L0,0.44L-0.68,0.93L-0.42,0.14L-1.09,-0.36L-0.26,-0.36Z"]}},
"fill": {"field": "m", "type": "nominal", "legend": null, "scale": {"domain": ["A","B","C","D","E","F","G","H","I","J"], "range": ["#c4001c","#ff4500","#0a0aa0","#1a9be6","#10f0ff","#008000","#1ef0a0","#9acd32","#7b0a5c","#ff1ee0"]}},
"stroke": {"field": "m", "type": "nominal", "legend": null, "scale": {"domain": ["A","B","C","D","E","F","G","H","I","J"], "range": ["#c4001c","#ff4500","#0a0aa0","#1a9be6","#10f0ff","#008000","#1ef0a0","#9acd32","#7b0a5c","#ff1ee0"]}}}},
{"mark": {"type": "text", "align": "left", "baseline": "middle", "fontSize": 12, "font": "DejaVu Sans", "color": "black"}, "encoding": {"x": {"datum": 35, "type": "quantitative", "axis": null, "scale": {"domain": [0, 100], "range": [0, 100]}}, "text": {"field": "name"}}}
]}
]
}
],
"spacing": 2,
"config": {
"font": "DejaVu Sans",
"view": {"stroke": "black", "strokeWidth": 0.9},
"axis": {"domain": false, "grid": false, "labelFont": "DejaVu Sans", "labelFontSize": 8, "labelColor": "#222222", "tickColor": "black", "tickSize": 3.5, "tickWidth": 0.8, "labelPadding": 2}
}
}
